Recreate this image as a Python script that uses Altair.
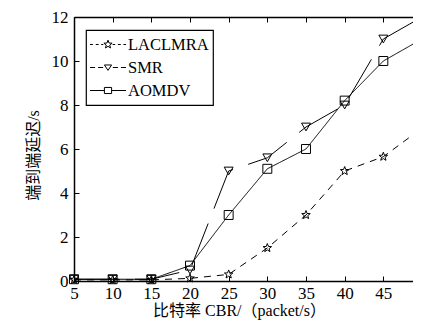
import math
import altair as alt
import pandas as pd

# ---- data ----
cbr = [5, 10, 15, 20, 25, 30, 35, 40, 45, 50]
laclmra = [0.05, 0.05, 0.05, 0.12, 0.3, 1.5, 3.0, 5.0, 5.65, 6.95]
smr = [0.08, 0.08, 0.08, 0.5, 5.0, 5.6, 7.0, 8.0, 11.0, 12.0]
aomdv = [0.08, 0.08, 0.08, 0.7, 3.0, 5.1, 6.0, 8.2, 10.0, 11.0]
series_names = ["LACLMRA", "SMR", "AOMDV"]
x_ticks = [5, 10, 15, 20, 25, 30, 35, 40, 45, 50]
y_ticks = [0, 2, 4, 6, 8, 10, 12]

rows = []
for name, vals in zip(series_names, [laclmra, smr, aomdv]):
    for xv, yv in zip(cbr, vals):
        rows.append({"cbr": xv, "delay": yv, "series": name})
df = pd.DataFrame(rows)

WF = 348          # full plot width (extends past the window edge)
W = 339           # visible view width
H = 264
FONT = "Liberation Serif, Noto Sans CJK SC"


def star_path(cx=0.0, R=1.0, r=0.42):
    pts = []
    for i in range(10):
        ang = math.radians(-90 + 36 * i)
        rad = R if i % 2 == 0 else r
        pts.append((cx + rad * math.cos(ang), rad * math.sin(ang)))
    return "M" + "L".join(f"{px:.3f},{py:.3f}" for px, py in pts) + "Z"


def dashes(segs):
    return "".join(f"M{a:.3f},0H{b:.3f}" for a, b in segs)


point_shapes = [star_path(), "triangle-down", "square"]

leg_lac = dashes([(-1, -0.84), (-0.68, -0.52), (-0.38, -0.26), (0.26, 0.4), (0.55, 0.71), (0.86, 1)]) + star_path(0, 0.24, 0.1)
tri = "M-0.2,-0.14L0.2,-0.14L0,0.16Z"
leg_smr = dashes([(-1, -0.72), (-0.55, -0.27), (0.27, 0.55), (0.72, 1)]) + tri
sq = "M-0.2,-0.17H0.2V0.17H-0.2Z"
leg_aom = "M-1,0H-0.2M0.2,0H1" + sq
legend_shapes = [leg_lac, leg_smr, leg_aom]

xscale = alt.Scale(domain=[5, 50], nice=False, zero=False, range=[0, WF])
yscale = alt.Scale(domain=[0, 12], nice=False)

common = dict(tickColor="black", domainColor="black", domainWidth=1.5, grid=False,
              tickWidth=1, labelOverlap=False)

x_main = alt.X(
    "cbr:Q", scale=xscale,
    axis=alt.Axis(
        orient="bottom", offset=-H, values=x_ticks, tickSize=5, domain=True,
        labelPadding=H - 1, labelFont=FONT, labelFontSize=17, labelColor="black",
        labelFlush=False,
        title="比特率 CBR/（packet/s）", titleFont=FONT, titleFontSize=16,
        titleFontWeight="normal", titleColor="black",
        titleX=165, titleY=H + 21, titleBaseline="top", **common),
)
y_main = alt.Y(
    "delay:Q", scale=yscale,
    axis=alt.Axis(
        orient="left", offset=-WF, values=y_ticks, tickSize=5, domain=True,
        labelPadding=WF + 1, labelFont=FONT, labelFontSize=17, labelColor="black",
        title="端到端延迟/s", titleFont=FONT, titleFontSize=16,
        titleFontWeight="normal", titleColor="black",
        titleX=-(WF + 74 - 33), titleY=138, titleBaseline="middle", **common),
)

lines = alt.Chart(df).mark_line(color="black", strokeWidth=1).encode(
    x=x_main, y=y_main,
    strokeDash=alt.StrokeDash(
        "series:N",
        scale=alt.Scale(domain=series_names, range=[[7, 6], [45, 16], [1, 0]]),
        legend=None),
    detail="series:N",
)

points = alt.Chart(df).mark_point(filled=False, color="black", strokeWidth=1, size=80, opacity=1).encode(
    x=x_main, y=y_main,
    shape=alt.Shape("series:N", scale=alt.Scale(domain=series_names, range=point_shapes), legend=None),
)

legend_layer = alt.Chart(df).transform_filter("datum.cbr < 0").mark_point(
    filled=False, color="black", strokeWidth=1, opacity=1
).encode(
    shape=alt.Shape(
        "series:N",
        scale=alt.Scale(domain=series_names, range=legend_shapes),
        legend=alt.Legend(
            title=None, orient="none", legendX=12, legendY=13,
            strokeColor="black", fillColor="white", padding=3.5,
            symbolSize=1296, clipHeight=22, rowPadding=1, labelOffset=1.5,
            labelFont=FONT, labelFontSize=16.5, labelColor="black",
            symbolStrokeColor="black", symbolStrokeWidth=1,
            symbolFillColor="transparent", symbolOpacity=1, cornerRadius=0,
        ),
    ),
)

main = alt.layer(lines, points, legend_layer).resolve_scale(shape="independent")

ticks_layer = alt.Chart(df).mark_point(opacity=0).encode(
    x=alt.X("cbr:Q", scale=xscale,
            axis=alt.Axis(orient="top", offset=-H, values=x_ticks, tickSize=5, domain=True,
                          labels=False, title=None, **common)),
    y=alt.Y("delay:Q", scale=yscale,
            axis=alt.Axis(orient="right", offset=-W, values=y_ticks, tickSize=5, domain=True,
                          labels=False, title=None, **common)),
)

chart = alt.layer(main, ticks_layer).resolve_axis(x="independent", y="independent").properties(
    width=W, height=H,
    autosize=alt.AutoSizeParams(type="none"),
    padding={"left": 66, "top": 9, "right": 0, "bottom": 40},
    background="white",
).configure_view(stroke=None).configure_legend(strokeWidth=1.2).configure_axis(labelOverlap=False)

chart.save("out.html", embed_options={"renderer": "svg", "actions": False})
